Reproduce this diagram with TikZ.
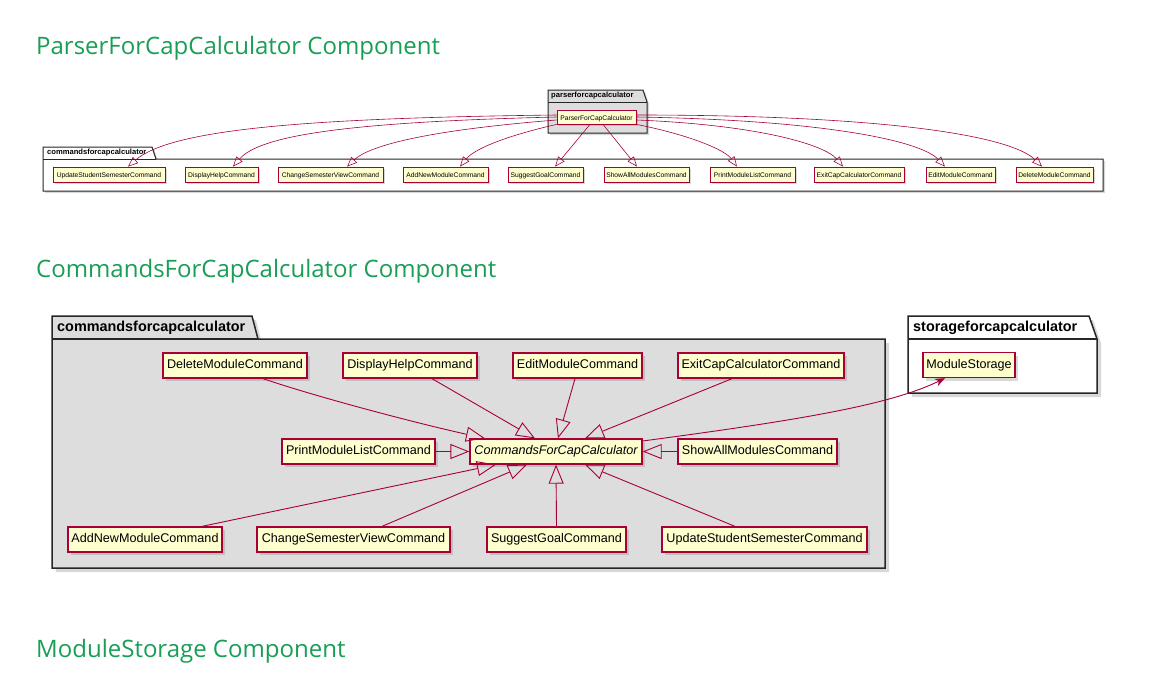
\documentclass[tikz,border=0pt]{standalone}
\usepackage{fontspec}
\setmainfont{Liberation Sans}
\newfontfamily\headfont{Open Sans}
\usetikzlibrary{arrows.meta,shadows}
\definecolor{umlred}{HTML}{A80036}
\definecolor{umlfill}{HTML}{FEFECE}
\definecolor{pkggrey}{HTML}{DDDDDD}
\definecolor{headgreen}{RGB}{25,158,86}
\begin{document}
\begin{tikzpicture}[x=1pt,y=-1pt,
  cls/.style={draw=umlred, fill=umlfill, line width=1.3pt, inner sep=0pt, minimum height=25pt,
    text height=0.8em, text depth=0.12em,
    font=\fontsize{12.6}{14}\selectfont,
    drop shadow={shadow xshift=3pt,shadow yshift=-3pt,opacity=0.3}},
  scls/.style={draw=umlred, fill=umlfill, line width=0.8pt, inner sep=0pt, minimum height=15pt,
    text height=0.8em, text depth=0.12em,
    font=\fontsize{6.7}{8}\selectfont,
    drop shadow={shadow xshift=1.5pt,shadow yshift=-1.5pt,opacity=0.3}},
  pkg/.style={draw=black!85, line width=1.5pt, line join=miter,
    drop shadow={shadow xshift=4pt,shadow yshift=-4pt,opacity=0.3}},
  spkg/.style={draw=black!85, line width=1pt, line join=miter,
    drop shadow={shadow xshift=2pt,shadow yshift=-2pt,opacity=0.3}},
  pkglbl/.style={anchor=west, inner sep=0pt, font=\bfseries\fontsize{14.4}{16}\selectfont},
  spkglbl/.style={anchor=west, inner sep=0pt, font=\bfseries\fontsize{7.6}{9}\selectfont},
  inh/.style={draw=umlred, line width=0.9pt, -{Triangle[open, length=19pt, width=15pt, line width=0.9pt]}},
  sinh/.style={draw=umlred, line width=0.6pt, -{Triangle[open, length=10pt, width=8pt, line width=0.6pt]}},
  assoc/.style={draw=umlred, line width=0.9pt, -{Stealth[length=10pt, width=8pt]}},
  head/.style={anchor=base west, inner sep=0pt, text=headgreen, font=\headfont\fontsize{24}{28}\selectfont}
]
\useasboundingbox (0,0) rectangle (1159,696);
\fill[white] (0,0) rectangle (1159,696);

% headings
\node[head] (h1) at (36,54) {ParserForCapCalculator Component};
\node[head] (h2) at (36,277) {CommandsForCapCalculator Component};
\node[head] (h3) at (36,657) {ModuleStorage Component};

% ---------- top diagram ----------
\draw[spkg, fill=pkggrey] (548,90) -- (643,90) -- (647,102) -- (647,133) -- (548,133) -- cycle;
\draw[black!85, line width=1pt] (548,102) -- (647,102);
\node[spkglbl] (ptab) at (551,96) {parserforcapcalculator};

\draw[spkg, fill=white] (43,147) -- (152,147) -- (156,159) -- (1103,159) -- (1103,191) -- (43,191) -- cycle;
\draw[black!85, line width=1pt] (43,159) -- (156,159);
\node[spkglbl] (ctab1) at (47,153) {commandsforcapcalculator};

\node[scls, minimum width=79pt, minimum height=14pt] (parser) at (596.5,117) {ParserForCapCalculator};

\node[scls, minimum width=112pt] (upd1) at (109,174.5) {UpdateStudentSemesterCommand};
\node[scls, minimum width=73pt]  (dhc1) at (221.5,174.5) {DisplayHelpCommand};
\node[scls, minimum width=105pt] (csv1) at (330.5,174.5) {ChangeSemesterViewCommand};
\node[scls, minimum width=85pt]  (anm1) at (445.5,174.5) {AddNewModuleCommand};
\node[scls, minimum width=75pt]  (sgc1) at (545.5,174.5) {SuggestGoalCommand};
\node[scls, minimum width=85pt]  (sam1) at (646.5,174.5) {ShowAllModulesCommand};
\node[scls, minimum width=85pt]  (pml1) at (752.5,174.5) {PrintModuleListCommand};
\node[scls, minimum width=90pt]  (ecc1) at (859,174.5) {ExitCapCalculatorCommand};
\node[scls, minimum width=69pt]  (emc1) at (960.5,174.5) {EditModuleCommand};
\node[scls, minimum width=77pt]  (dmc1) at (1054.5,174.5) {DeleteModuleCommand};

\draw[sinh] ([yshift=2pt]parser.west) .. controls (300,118) and (170,130) .. ([xshift=19pt]upd1.north);
\draw[sinh] (parser.west) .. controls (350,122) and (260,135) .. ([xshift=11.5pt]dhc1.north);
\draw[sinh] ([yshift=-3pt]parser.west) .. controls (430,130) and (370,145) .. ([xshift=16.5pt]csv1.north);
\draw[sinh] (parser.south west) .. controls (510,135) and (475,148) .. ([xshift=14.5pt]anm1.north);
\draw[sinh] ([xshift=-6.5pt]parser.south) -- ([xshift=9.5pt]sgc1.north);
\draw[sinh] ([xshift=6.5pt]parser.south) -- ([xshift=-9.5pt]sam1.north);
\draw[sinh] (parser.south east) .. controls (690,135) and (725,150) .. ([xshift=-15.5pt]pml1.north);
\draw[sinh] ([yshift=-3pt]parser.east) .. controls (760,125) and (825,145) .. ([xshift=-16pt]ecc1.north);
\draw[sinh] (parser.east) .. controls (820,120) and (920,140) .. ([xshift=-15.5pt]emc1.north);
\draw[sinh] ([yshift=2pt]parser.east) .. controls (880,115) and (1010,135) .. ([xshift=-12.5pt]dmc1.north);

% ---------- middle diagram ----------
\draw[pkg, fill=pkggrey] (52,316) -- (252,316) -- (258,339) -- (885,339) -- (885,568) -- (52,568) -- cycle;
\draw[black!85, line width=1.5pt] (52,339) -- (258,339);
\node[pkglbl] (ctab2) at (57,327.5) {commandsforcapcalculator};

\draw[pkg, fill=white] (908,316) -- (1089,316) -- (1097,339) -- (1097,393) -- (908,393) -- cycle;
\draw[black!85, line width=1.5pt] (908,339) -- (1097,339);
\node[pkglbl] (stab) at (913,327.5) {storageforcapcalculator};

\node[cls, minimum width=92pt] (ms) at (969,365) {ModuleStorage};

\node[cls, minimum width=144pt] (del) at (235,365.5) {DeleteModuleCommand};
\node[cls, minimum width=134pt] (dhc) at (410,365.5) {DisplayHelpCommand};
\node[cls, minimum width=129pt] (emc) at (577.5,365.5) {EditModuleCommand};
\node[cls, minimum width=166pt] (ecc) at (761,365.5) {ExitCapCalculatorCommand};
\node[cls, minimum width=153pt] (pml) at (358.5,451.5) {PrintModuleListCommand};
\node[cls, minimum width=172pt] (cfc) at (556,451.5) {\itshape CommandsForCapCalculator};
\node[cls, minimum width=159pt] (sam) at (757.5,451.5) {ShowAllModulesCommand};
\node[cls, minimum width=154pt] (anm) at (145,539.5) {AddNewModuleCommand};
\node[cls, minimum width=193pt] (csv) at (353.5,539.5) {ChangeSemesterViewCommand};
\node[cls, minimum width=139pt] (sgc) at (556.5,539.5) {SuggestGoalCommand};
\node[cls, minimum width=205pt] (usc) at (764.5,539.5) {UpdateStudentSemesterCommand};

\draw[inh] ([xshift=28pt]del.south) .. controls (320,398) and (420,424) .. ([xshift=-71pt]cfc.north);
\draw[inh] ([xshift=22pt]dhc.south) -- ([xshift=-21pt]cfc.north);
\draw[inh] ([xshift=-2.5pt]emc.south) -- ([xshift=2pt]cfc.north);
\draw[inh] ([xshift=-29pt]ecc.south) -- ([xshift=29pt]cfc.north);
\draw[inh] (pml.east) -- (cfc.west);
\draw[inh] (sam.west) -- (cfc.east);
\draw[inh] ([xshift=57pt]anm.north) -- ([xshift=-60pt]cfc.south);
\draw[inh] ([xshift=28.5pt]csv.north) -- ([xshift=-29pt]cfc.south);
\draw[inh] (sgc.north) -- (cfc.south);
\draw[inh] ([xshift=-29.5pt]usc.north) -- ([xshift=29pt]cfc.south);
\draw[assoc] ([yshift=10.5pt]cfc.east) .. controls (800,420) and (890,405) .. ([xshift=-24pt]ms.south);
\end{tikzpicture}
\end{document}
